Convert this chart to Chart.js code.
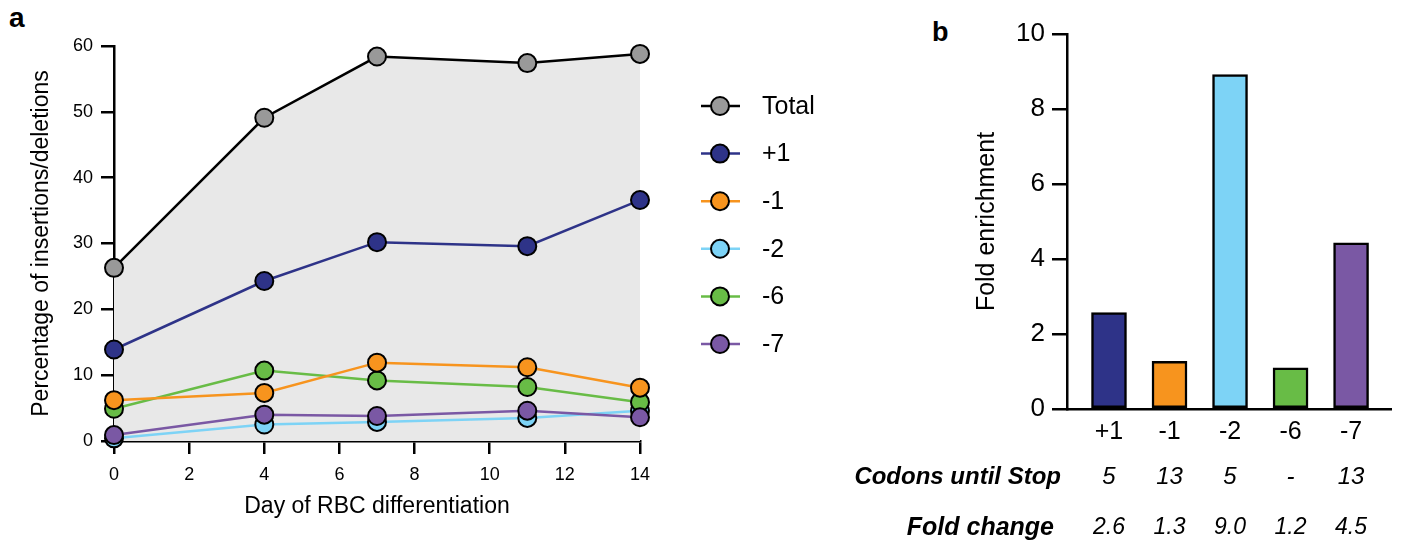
<!DOCTYPE html>
<html>
<head>
<meta charset="utf-8">
<script src="https://cdn.jsdelivr.net/npm/chart.js@4.4.0/dist/chart.umd.min.js"></script>
<style>
body{margin:0;background:#fff;width:1402px;height:547px;overflow:hidden;position:relative;font-family:"Liberation Sans",Arial,sans-serif}
#lineas{position:absolute;left:0;top:0}
#barras{position:absolute;left:800px;top:0}
.panel{position:absolute;font-weight:bold;line-height:1;color:#000}
</style>
</head>
<body>
<div class="panel" style="left:9px;top:4px;font-size:28px">a</div>
<div class="panel" style="left:932px;top:19px;font-size:27px">b</div>
<canvas id="lineas" width="860" height="547"></canvas>
<canvas id="barras" width="602" height="547"></canvas>
<script>
// panel a: dias y porcentajes
const dias = [0, 4, 7, 11, 14];
const total = [26.3, 49.1, 58.4, 57.4, 58.8];
const mas1 = [13.9, 24.3, 30.2, 29.6, 36.6];
const menos1 = [6.2, 7.3, 11.9, 11.2, 8.1];
const menos2 = [0.4, 2.5, 2.9, 3.5, 4.6];
const menos6 = [4.9, 10.7, 9.2, 8.2, 5.9];
const menos7 = [0.9, 4.0, 3.8, 4.6, 3.6];
const ticksY = [0, 10, 20, 30, 40, 50, 60];
const ticksX = [0, 2, 4, 6, 8, 10, 12, 14];

// panel b
const marcos = ['+1', '-1', '-2', '-6', '-7'];
const enriquecimiento = [2.57, 1.27, 8.92, 1.1, 4.43];
const codones = ['5', '13', '5', '-', '13'];
const cambio = ['2.6', '1.3', '9.0', '1.2', '4.5'];

const fuente = '"Liberation Sans", Arial, sans-serif';
const azul = '#2e3388', naranja = '#f7941e', celeste = '#7dd3f6', verde = '#68bc46', morado = '#7a58a4';

function serie(label, valores, linea, relleno, orden) {
    return {
        label: label,
        data: valores.map((v, i) => ({ x: dias[i], y: v })),
        borderColor: linea,
        borderWidth: 2.5,
        pointBackgroundColor: relleno,
        pointBorderColor: '#000',
        pointBorderWidth: 2,
        pointRadius: 9,
        pointHoverRadius: 9,
        fill: false,
        order: orden,
        clip: false
    };
}

const sTotal = serie('Total', total, '#000', '#999', 0);
sTotal.fill = 'origin';
sTotal.backgroundColor = '#e8e8e8';

const datasetsLineas = [
    sTotal,
    serie('+1', mas1, azul, azul, 1),
    serie('-1', menos1, naranja, naranja, 2),
    serie('-2', menos2, celeste, celeste, 5),
    serie('-6', menos6, verde, verde, 4),
    serie('-7', menos7, morado, morado, 3)
];

// leyenda dibujada a mano (linea con circulo)
const leyenda = {
    id: 'leyenda',
    afterDraw(chart) {
        const ctx = chart.ctx;
        ctx.save();
        chart.data.datasets.forEach((ds, i) => {
            const y = 106 + i * 47.6;
            ctx.strokeStyle = ds.borderColor;
            ctx.lineWidth = 2.5;
            ctx.beginPath();
            ctx.moveTo(701, y);
            ctx.lineTo(740, y);
            ctx.stroke();
            ctx.beginPath();
            ctx.arc(720, y, 9, 0, Math.PI * 2);
            ctx.fillStyle = ds.pointBackgroundColor;
            ctx.fill();
            ctx.lineWidth = 2;
            ctx.strokeStyle = '#000';
            ctx.stroke();
            ctx.fillStyle = '#000';
            ctx.font = '25px ' + fuente;
            ctx.textBaseline = 'middle';
            ctx.fillText(ds.label, 762, y + 1);
        });
        ctx.restore();
    }
};

new Chart(document.getElementById('lineas'), {
    type: 'line',
    data: { datasets: datasetsLineas },
    options: {
        responsive: false,
        animation: false,
        layout: { padding: { left: 0, top: 46, right: 220, bottom: 27 } },
        plugins: {
            legend: { display: false },
            tooltip: { enabled: false },
            filler: { drawTime: 'beforeDatasetsDraw' }
        },
        scales: {
            x: {
                type: 'linear', min: 0, max: 14,
                afterBuildTicks: s => { s.ticks = ticksX.map(v => ({ value: v })); },
                ticks: { color: '#000', font: { size: 18, family: fuente }, padding: 10, maxRotation: 0 },
                grid: { drawOnChartArea: false, tickLength: 13, color: '#000', lineWidth: 2.5 },
                border: { color: '#000', width: 2.5 },
                title: { display: true, text: 'Day of RBC differentiation', color: '#000', font: { size: 23, family: fuente }, padding: { top: 1, bottom: 0 } },
                afterFit: s => { s.height = 79; }
            },
            y: {
                min: 0, max: 60,
                afterBuildTicks: s => { s.ticks = ticksY.map(v => ({ value: v })); },
                ticks: { color: '#000', font: { size: 18, family: fuente }, padding: 8 },
                grid: { drawOnChartArea: false, tickLength: 13, color: '#000', lineWidth: 2.5 },
                border: { color: '#000', width: 2.5 },
                title: { display: true, text: 'Percentage of insertions/deletions', color: '#000', font: { size: 23, family: fuente }, padding: { top: 28, bottom: 0 } },
                afterFit: s => { s.width = 114; }
            }
        }
    },
    plugins: [leyenda]
});

// filas de texto debajo de las barras
const filas = {
    id: 'filas',
    afterDraw(chart) {
        const ctx = chart.ctx;
        const x = chart.scales.x;
        ctx.save();
        ctx.fillStyle = '#000';
        ctx.textBaseline = 'middle';
        ctx.textAlign = 'right';
        ctx.font = 'italic bold 24px ' + fuente;
        ctx.fillText('Codons until Stop', 261, 477);
        ctx.font = 'italic bold 25px ' + fuente;
        ctx.fillText('Fold change', 254, 528);
        ctx.textAlign = 'center';
        ctx.font = 'italic 24px ' + fuente;
        codones.forEach((c, i) => ctx.fillText(c, x.getPixelForValue(i), 477));
        ctx.font = 'italic 23px ' + fuente;
        cambio.forEach((c, i) => ctx.fillText(c, x.getPixelForValue(i), 528));
        ctx.restore();
    }
};

new Chart(document.getElementById('barras'), {
    type: 'bar',
    data: {
        datasets: [{
            data: enriquecimiento.map((v, i) => ({ x: i, y: v })),
            backgroundColor: [azul, naranja, celeste, verde, morado],
            borderColor: '#000',
            borderWidth: 2.5,
            borderSkipped: false,
            barThickness: 35
        }]
    },
    options: {
        responsive: false,
        animation: false,
        layout: { padding: { left: 160, top: 34, right: 11, bottom: 0 } },
        plugins: { legend: { display: false }, tooltip: { enabled: false } },
        scales: {
            x: {
                type: 'linear', min: -0.694, max: 4.66, offset: false,
                afterBuildTicks: s => { s.ticks = marcos.map((m, i) => ({ value: i })); },
                ticks: { callback: v => marcos[v], color: '#000', font: { size: 25, family: fuente }, padding: 0, maxRotation: 0, autoSkip: false },
                grid: { display: false },
                border: { color: '#000', width: 2.5 },
                afterFit: s => { s.height = 138; }
            },
            y: {
                min: 0, max: 10,
                ticks: { stepSize: 2, color: '#000', font: { size: 26, family: fuente }, padding: 7 },
                grid: { drawOnChartArea: false, tickLength: 15, color: '#000', lineWidth: 2.5 },
                border: { color: '#000', width: 2.5 },
                title: { display: true, text: 'Fold enrichment', color: '#000', font: { size: 25, family: fuente }, padding: { top: 12, bottom: 0 } },
                afterFit: s => { s.width = 107; }
            }
        }
    },
    plugins: [filas]
});
</script>
</body>
</html>
